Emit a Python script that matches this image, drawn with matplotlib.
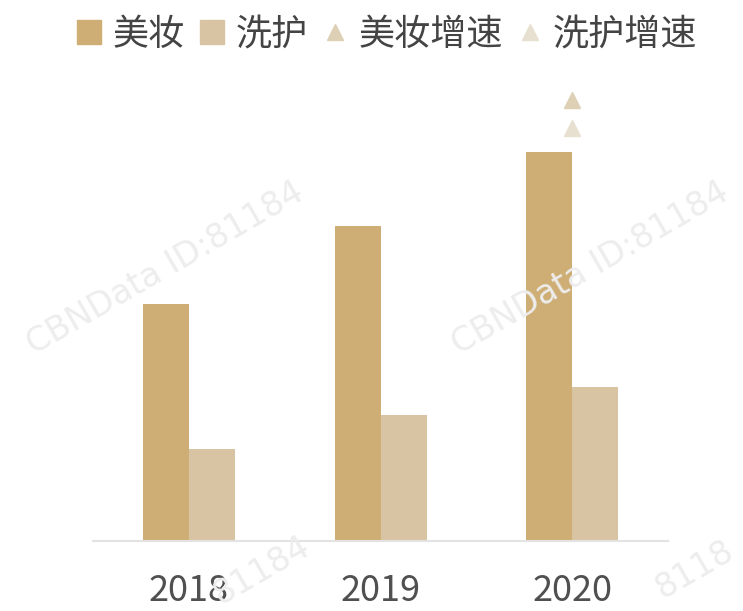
import numpy as np
import matplotlib.pyplot as plt
from matplotlib.lines import Line2D

plt.rcParams['font.family'] = ['Noto Sans CJK SC', 'DejaVu Sans']

years = ['2018', '2019', '2020']
beauty = [2.37, 3.15, 3.89]        # 美妆
care = [0.92, 1.26, 1.54]          # 洗护
beauty_growth = [np.nan, np.nan, 0.917]   # 美妆增速
care_growth = [np.nan, np.nan, 0.859]     # 洗护增速

c_beauty = '#CFAE75'
c_care = '#D8C4A2'
c_bg = '#DDD0B5'
c_cg = '#E7E0D0'

fig = plt.figure(figsize=(7.43, 6.11), dpi=100)
ax = fig.add_axes([93/743, (611-541)/611, 575/743, 481/611])

x = np.arange(len(years))
w = 0.24
ax.bar(x - w/2, beauty, w, color=c_beauty)
ax.bar(x + w/2, care, w, color=c_care)
ax.set_xlim(-0.5, 2.5)
ax.set_ylim(0, 4.81)

ax2 = ax.twinx()
ax2.set_ylim(0, 1)
ax2.plot(x, beauty_growth, '^', color=c_bg, markersize=11, linestyle='none')
ax2.plot(x, care_growth, '^', color=c_cg, markersize=11, linestyle='none')

for a in (ax, ax2):
    for s in ['top', 'right', 'left']:
        a.spines[s].set_visible(False)
    a.set_yticks([])
ax2.spines['bottom'].set_visible(False)
ax.spines['bottom'].set_color('#E3E3E3')
ax.spines['bottom'].set_linewidth(1.5)

ax.set_xticks(x)
ax.set_xticklabels(years, fontsize=26, color='#505050')
ax.tick_params(axis='x', length=0, pad=23)

handles = [
    Line2D([], [], marker='s', color=c_beauty, linestyle='none', markersize=17),
    Line2D([], [], marker='s', color=c_care, linestyle='none', markersize=17),
    Line2D([], [], marker='^', color=c_bg, linestyle='none', markersize=11),
    Line2D([], [], marker='^', color=c_cg, linestyle='none', markersize=11),
]
labels = ['美妆', '洗护', '美妆增速', '洗护增速']
fig.legend(handles, labels, loc='center', bbox_to_anchor=(387/743, 1 - 35/611),
           ncol=4, frameon=False, fontsize=26, labelcolor='#444444',
           handlelength=0.7, handletextpad=0.3, columnspacing=0.4)

# watermark
wm = dict(fontsize=24, color='#EDEDED', rotation=30, ha='center', va='center',
          family=['DejaVu Sans'], zorder=0)
fig.text(165/743, 1 - 268/611, 'CBNData ID:81184', **wm)
fig.text(590/743, 1 - 268/611, 'CBNData ID:81184', **wm)
fig.text(262/743, 1 - 570/611, '81184', **wm)
fig.text(695/743, 1 - 570/611, '8118', **wm)

fig.savefig('out.png', dpi=100, facecolor='white')
